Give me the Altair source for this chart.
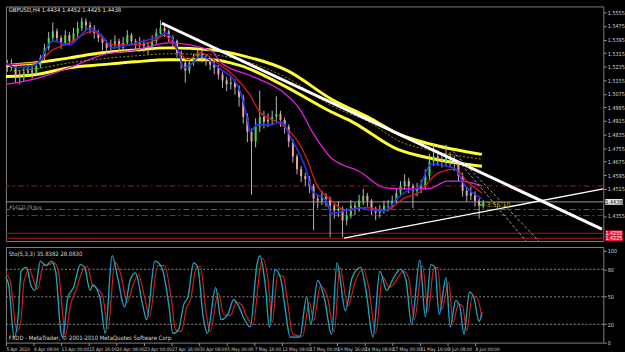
import altair as alt
import pandas as pd

FONT = "Liberation Sans Narrow, DejaVu Sans Condensed, Liberation Sans, sans-serif"

# ---------------- data ----------------
bar_t = list(range(1, 348, 3))  # H4 bar positions (bar index)

opens = [1.5250,1.5229,1.5247,1.5189,1.5171,1.5200,1.5212,1.5200,1.5241,1.5287,
         1.5346,1.5404,1.5444,1.5404,1.5375,1.5421,1.5386,1.5433,1.5462,1.5502,
         1.5479,1.5462,1.5433,1.5404,1.5375,1.5346,1.5363,1.5386,1.5346,1.5375,
         1.5421,1.5386,1.5363,1.5375,1.5357,1.5346,1.5386,1.5433,1.5462,1.5444,
         1.5404,1.5386,1.5317,1.5258,1.5212,1.5258,1.5287,1.5317,1.5287,1.5270,
         1.5247,1.5229,1.5189,1.5154,1.5131,1.5142,1.5113,1.5055,1.4939,1.4852,
         1.4794,1.4881,1.4939,1.4910,1.4921,1.4939,1.4956,1.4921,1.4881,1.4794,
         1.4706,1.4631,1.4590,1.4573,1.4532,1.4457,1.4445,1.4474,1.4457,1.4416,
         1.4387,1.4398,1.4329,1.4358,1.4416,1.4398,1.4445,1.4474,1.4445,1.4398,
         1.4375,1.4387,1.4416,1.4416,1.4445,1.4491,1.4532,1.4561,1.4532,1.4503,
         1.4515,1.4532,1.4590,1.4677,1.4706,1.4689,1.4677,1.4706,1.4689,1.4666,
         1.4590,1.4503,1.4474,1.4491,1.4445,1.4416]
highs = [1.5275,1.5280,1.5255,1.5215,1.5230,1.5245,1.5240,1.5265,1.5305,1.5370,
         1.5440,1.5495,1.5460,1.5420,1.5450,1.5440,1.5465,1.5500,1.5525,1.5520,
         1.5500,1.5480,1.5450,1.5420,1.5390,1.5395,1.5420,1.5400,1.5410,1.5450,
         1.5435,1.5400,1.5410,1.5395,1.5380,1.5420,1.5460,1.5510,1.5490,1.5455,
         1.5420,1.5395,1.5330,1.5270,1.5280,1.5310,1.5340,1.5330,1.5305,1.5290,
         1.5270,1.5245,1.5205,1.5175,1.5175,1.5160,1.5125,1.5070,1.4960,1.4870,
         1.4930,1.5095,1.4975,1.4960,1.4975,1.5060,1.4975,1.4935,1.4895,1.4810,
         1.4720,1.4650,1.4610,1.4590,1.4545,1.4480,1.4505,1.4490,1.4470,1.4430,
         1.4440,1.4410,1.4400,1.4450,1.4435,1.4480,1.4515,1.4490,1.4455,1.4410,
         1.4420,1.4445,1.4450,1.4475,1.4520,1.4560,1.4600,1.4580,1.4545,1.4550,
         1.4570,1.4630,1.4720,1.4780,1.4740,1.4720,1.4775,1.4730,1.4710,1.4680,
         1.4610,1.4530,1.4530,1.4500,1.4460,1.4450]
lows = [1.5205,1.5215,1.5140,1.5130,1.5150,1.5180,1.5165,1.5185,1.5225,1.5270,
        1.5330,1.5385,1.5380,1.5340,1.5360,1.5360,1.5370,1.5410,1.5445,1.5450,
        1.5430,1.5400,1.5380,1.5330,1.5315,1.5320,1.5340,1.5320,1.5330,1.5360,
        1.5360,1.5330,1.5335,1.5320,1.5310,1.5330,1.5370,1.5420,1.5410,1.5380,
        1.5350,1.5290,1.5220,1.5140,1.5195,1.5240,1.5270,1.5260,1.5240,1.5215,
        1.5190,1.5160,1.5110,1.5090,1.5100,1.5070,1.5000,1.4900,1.4790,1.4480,
        1.4760,1.4850,1.4870,1.4880,1.4895,1.4910,1.4880,1.4840,1.4760,1.4670,
        1.4600,1.4555,1.4530,1.4490,1.4270,1.4400,1.4420,1.4410,1.4230,1.4340,
        1.4350,1.4230,1.4300,1.4340,1.4360,1.4380,1.4420,1.4410,1.4360,1.4330,
        1.4345,1.4370,1.4380,1.4400,1.4430,1.4470,1.4510,1.4490,1.4400,1.4470,
        1.4490,1.4510,1.4570,1.4650,1.4650,1.4640,1.4650,1.4640,1.4620,1.4560,
        1.4470,1.4440,1.4450,1.4410,1.4340,1.4400]
closes = [1.5229,1.5247,1.5189,1.5171,1.5200,1.5212,1.5200,1.5241,1.5287,1.5346,
          1.5404,1.5444,1.5404,1.5375,1.5421,1.5386,1.5433,1.5462,1.5502,1.5479,
          1.5462,1.5433,1.5404,1.5375,1.5346,1.5363,1.5386,1.5346,1.5375,1.5421,
          1.5386,1.5363,1.5375,1.5357,1.5346,1.5386,1.5433,1.5462,1.5444,1.5404,
          1.5386,1.5317,1.5258,1.5212,1.5258,1.5287,1.5317,1.5287,1.5270,1.5247,
          1.5229,1.5189,1.5154,1.5131,1.5142,1.5113,1.5055,1.4939,1.4852,1.4794,
          1.4881,1.4939,1.4910,1.4921,1.4939,1.4956,1.4921,1.4881,1.4794,1.4706,
          1.4631,1.4590,1.4573,1.4532,1.4457,1.4445,1.4474,1.4457,1.4416,1.4387,
          1.4398,1.4329,1.4358,1.4416,1.4398,1.4445,1.4474,1.4445,1.4398,1.4375,
          1.4387,1.4416,1.4416,1.4445,1.4491,1.4532,1.4561,1.4532,1.4503,1.4515,
          1.4532,1.4590,1.4677,1.4706,1.4689,1.4677,1.4706,1.4689,1.4666,1.4590,
          1.4503,1.4474,1.4491,1.4445,1.4416,1.4438]

# moving averages / bands (bar index, price)
yu_t = [0,22,46,70,94,118,149,172,204,236,265,284,306,345]
yu_p = [1.5241,1.5258,1.5287,1.5317,1.5334,1.5346,1.5334,1.5299,1.5212,1.5043,1.4927,1.4840,1.4782,1.4718]
yl_t = [0,22,46,70,94,118,149,170,201,236,251,284,308,345]
yl_p = [1.5177,1.5189,1.5229,1.5247,1.5264,1.5276,1.5276,1.5241,1.5125,1.4968,1.4910,1.4747,1.4695,1.4648]
ym_t = [0,22,46,70,94,118,149,172,204,236,265,284,306,345]
ym_p = [1.5209,1.5223,1.5258,1.5282,1.5299,1.5311,1.5305,1.5270,1.5168,1.5005,1.4900,1.4800,1.4745,1.4690]
mg_t = [0,22,46,70,94,118,149,156,177,201,213,222,236,256,275,291,306,320,329,345]
mg_p = [1.5131,1.5165,1.5229,1.5305,1.5334,1.5375,1.5328,1.5258,1.5183,1.5084,
        1.4985,1.4852,1.4695,1.4619,1.4521,1.4515,1.4515,1.4561,1.4561,1.4532]
rd_t = [0,22,34,46,63,77,94,108,115,122,132,141,156,165,177,184,199,208,218,225,
        236,246,261,275,289,299,313,326,334,345]
rd_p = [1.5247,1.5258,1.5334,1.5375,1.5444,1.5363,1.5363,1.5392,1.5421,1.5357,
        1.5276,1.5317,1.5241,1.5183,1.5067,1.4968,1.4898,1.4834,1.4695,1.4544,
        1.4445,1.4387,1.4404,1.4387,1.4462,1.4491,1.4608,1.4631,1.4561,1.4491]
bl_t = [0,8,22,34,46,61,70,77,94,111,115,125,129,134,141,156,165,170,175,177,
        182,192,199,208,218,222,232,236,246,256,265,275,284,291,299,308,325,332,345]
bl_p = [1.5258,1.5229,1.5247,1.5386,1.5363,1.5462,1.5415,1.5346,1.5375,1.5415,
        1.5433,1.5328,1.5229,1.5247,1.5299,1.5218,1.5160,1.5084,1.4927,1.4852,
        1.4892,1.4892,1.4910,1.4794,1.4619,1.4503,1.4445,1.4370,1.4387,1.4404,
        1.4387,1.4387,1.4462,1.4503,1.4521,1.4660,1.4637,1.4544,1.4457]

# drawn objects
trend_t = [113, 432]; trend_p = [1.5491, 1.4277]
support_t = [245, 433]; support_p = [1.4224, 1.4515]
fanA_t = [324, 389]; fanA_p = [1.4736, 1.4184]
fanB_t = [328, 377]; fanB_p = [1.4678, 1.4207]
lvl_dashdot_red = 1.4532
lvl_bid = 1.4438
lvl_green = 1.4393
lvl_brown = 1.4358
lvl_red1 = 1.4253
lvl_red2 = 1.4224

# stochastic
k_t = [0,2,6,9,11,15,18,21,25,29,33,36,40,41,45,49,54,57,61,63,68,72,77,81,86,90,94,99,102,108,
       113,118,121,125,129,132,136,139,143,146,152,156,161,165,169,172,177,182,184,188,
       191,195,199,202,206,213,218,221,226,231,236,240,246,251,257,261,266,271,276,281,
       286,290,294,300,304,308,311,314,319,322,326,329,332,336,339,343,345]
k_v = [71,63,6,31,78,82,63,57,89,84,89,78,10,6,50,60,85,82,57,63,50,10,95,71,39,68,76,42,25,89,
       82,42,10,14,42,50,87,82,28,10,60,25,31,47,39,28,17,85,95,63,
       17,80,71,42,6,6,50,20,68,47,9,87,35,71,82,57,6,78,57,71,
       80,68,20,90,28,85,82,31,71,17,46,39,9,55,50,23,33]
d_t = [0,3,8,11,13,17,20,23,27,31,35,38,42,43,47,51,56,59,63,65,70,74,79,83,88,92,96,101,104,110,
       115,120,123,127,131,134,138,141,145,148,154,158,163,167,171,174,179,184,186,190,
       193,197,201,204,208,215,220,223,228,233,238,242,248,253,259,263,268,273,278,283,
       288,292,296,302,306,310,313,316,321,324,328,331,334,338,341,345]
d_v = [75,68,12,25,66,80,68,58,84,85,87,78,18,8,42,58,80,83,62,60,52,15,88,76,44,62,74,46,28,84,
       84,46,14,12,38,48,82,83,34,12,54,30,30,44,41,30,19,78,92,68,
       22,74,72,46,9,7,44,24,62,50,12,82,40,66,80,60,10,72,60,68,
       78,70,25,84,34,80,82,36,66,22,42,40,13,50,50,28]

y_ticks = [1.5555,1.5475,1.5395,1.5315,1.5235,1.5155,1.5075,1.4995,1.4915,
           1.4835,1.4755,1.4675,1.4595,1.4515,1.4355]
x_tick_pos = list(range(0, 341, 20))
x_labels = ["5 Apr 2010","8 Apr 08:00","13 Apr 00:00","15 Apr 16:00","20 Apr 08:00",
            "23 Apr 00:00","27 Apr 16:00","30 Apr 08:00","5 May 00:00","7 May 16:00",
            "12 May 08:00","17 May 00:00","19 May 16:00","24 May 08:00","27 May 00:00",
            "31 May 16:00","3 Jun 08:00","8 Jun 00:00"]
title_txt = "GBPUSD,H4  1.4434 1.4452 1.4425 1.4438"
sto_txt = "Sto(5,3,3) 35.8382 28.0830"
copy_txt = "FXDD - MetaTrader, \u00a9 2001-2010 MetaQuotes Software Corp."
order_txt = "#1612579 buy"
timer_txt = "<-3:56:10"

# ---------------- chart ----------------
W = 606
MAIN_H = 238
STO_H = 97
xs = alt.Scale(domain=[0, 433], nice=False, zero=False)
ys = alt.Scale(domain=[1.4207, 1.5590], nice=False, zero=False)
ss = alt.Scale(domain=[0, 104.3], nice=False, zero=False)

y_axis = alt.Axis(orient="right", values=y_ticks, format=".4f", labelFontSize=5.5,
                  labelColor="#d8d8d8", tickColor="#909090", tickSize=3, labelPadding=1,
                  domain=False, grid=False, title=None, labelFont=FONT)
X = lambda f="t": alt.X(f + ":Q", scale=xs, axis=None)
Y = lambda f="p": alt.Y(f + ":Q", scale=ys, axis=y_axis)

cdf = pd.DataFrame({"t": bar_t, "o": opens, "h": highs, "l": lows, "c": closes})


def line(ts, ps, color, width, dash=None, interp="monotone"):
    kw = dict(color=color, strokeWidth=width, interpolate=interp, clip=True)
    if dash:
        kw["strokeDash"] = dash
    return alt.Chart(pd.DataFrame({"t": ts, "p": ps})).mark_line(**kw).encode(x=X(), y=Y())


def hline(p, color, width, dash=None):
    kw = dict(color=color, strokeWidth=width)
    if dash:
        kw["strokeDash"] = dash
    return alt.Chart(pd.DataFrame({"p": [p]})).mark_rule(**kw).encode(y=Y())


def label(t, p, s, color, size, align="left"):
    return alt.Chart(pd.DataFrame({"t": [t], "p": [p], "s": [s]})).mark_text(
        align=align, baseline="middle", fontSize=size, color=color, font=FONT
    ).encode(x=X(), y=Y(), text="s:N")


wicks = alt.Chart(cdf).mark_rule(color="#b8b8b8", strokeWidth=1).encode(x=X(), y=Y("l"), y2="h:Q")
bodies = alt.Chart(cdf).mark_rule(strokeWidth=2).encode(
    x=X(), y=Y("o"), y2="c:Q",
    color=alt.condition("datum.c >= datum.o", alt.value("#44dd44"), alt.value("#f0a0a0")),
)

boxes_df = pd.DataFrame({
    "t1": [434.5, 434.5, 434.5], "t2": [447, 447, 447],
    "p1": [lvl_bid - 0.0017, lvl_red1 - 0.0017, lvl_red2 - 0.0017],
    "p2": [lvl_bid + 0.0017, lvl_red1 + 0.0017, lvl_red2 + 0.0017],
    "fill": ["#e8e8e8", "#ee1133", "#ee1133"],
    "tc": ["#000000", "#ffffff", "#ffffff"],
    "s": ["1.4438", "1.4255", "1.4225"],
    "pm": [lvl_bid, lvl_red1, lvl_red2],
})
boxes = alt.Chart(boxes_df).mark_rect().encode(
    x=alt.X("t1:Q", scale=xs, axis=None), x2="t2:Q",
    y=Y("p1"), y2="p2:Q", fill=alt.Fill("fill:N", scale=None))
box_txt = alt.Chart(boxes_df).mark_text(align="left", baseline="middle", fontSize=5.5, font=FONT).encode(
    x=alt.X("t1:Q", scale=xs, axis=None), y=Y("pm"), text="s:N", color=alt.Color("tc:N", scale=None))

main = alt.layer(
    hline(lvl_dashdot_red, "#9a2020", 1, [6, 3, 2, 3]),
    hline(lvl_bid, "#9a9a9a", 1),
    hline(lvl_green, "#2a8a2a", 1, [6, 3, 2, 3]),
    hline(lvl_brown, "#7a3a18", 1, [6, 3, 2, 3]),
    hline(lvl_red1, "#b01818", 1),
    hline(lvl_red2, "#b01818", 1),
    line(ym_t, ym_p, "#9a9a00", 1, [2, 2]),
    line(yu_t, yu_p, "#ffff33", 3),
    line(yl_t, yl_p, "#ffff33", 3),
    wicks,
    bodies,
    line(mg_t, mg_p, "#e020e0", 1.3),
    line(rd_t, rd_p, "#e01818", 1.3),
    line(bl_t, bl_p, "#2233ee", 1.6),
    line(trend_t, trend_p, "#ffffff", 3, interp="linear"),
    line(support_t, support_p, "#ffffff", 1.3, interp="linear"),
    line(fanA_t, fanA_p, "#a0a0a0", 1, [3, 2], interp="linear"),
    line(fanB_t, fanB_p, "#a0a0a0", 1, [3, 2], interp="linear"),
    label(2, 1.5568, title_txt, "#e0e0e0", 6),
    label(2, 1.4410, order_txt, "#a8a8a8", 5),
    label(343, 1.4418, timer_txt, "#b8b800", 7),
    boxes,
    box_txt,
).properties(width=W, height=MAIN_H)

x_axis = alt.Axis(values=x_tick_pos, labelExpr="%s[round(datum.value/20)]" % str(x_labels),
                  labelAlign="left", labelFontSize=4.8, labelColor="#d0d0d0", tickColor="#909090",
                  tickSize=3, labelPadding=1, domain=False, grid=False, labelOverlap=False,
                  labelFlush=False, labelBound=False, title=None, labelFont=FONT)
s_axis = alt.Axis(orient="right", values=[0, 20, 50, 80, 100], labelFontSize=5.5, labelColor="#d8d8d8",
                  tickColor="#909090", tickSize=3, labelPadding=1, domain=False, grid=False,
                  title=None, labelFont=FONT)
SX = alt.X("t:Q", scale=xs, axis=x_axis)
SY = lambda f="v": alt.Y(f + ":Q", scale=ss, axis=s_axis)

kdf = pd.DataFrame({"t": k_t, "v": k_v})
ddf = pd.DataFrame({"t": d_t, "v": d_v})
levels = alt.Chart(pd.DataFrame({"v": [20, 50, 80]})).mark_rule(
    color="#8a8a8a", strokeDash=[2, 2], strokeWidth=1).encode(y=SY())
d_line = alt.Chart(ddf).mark_line(color="#cc2020", strokeWidth=1.2, interpolate="monotone").encode(x=SX, y=SY())
k_line = alt.Chart(kdf).mark_line(color="#20b2aa", strokeWidth=1.3, interpolate="monotone").encode(x=SX, y=SY())
k_dots = alt.Chart(kdf).mark_line(color="#3060ff", strokeWidth=1, strokeDash=[1, 3],
                                  interpolate="monotone").encode(x=SX, y=SY())
sto_lbl = alt.Chart(pd.DataFrame({"t": [2, 2], "v": [97, 5.5], "s": [sto_txt, copy_txt]})).mark_text(
    align="left", baseline="middle", fontSize=6, color="#d8d8d8", font=FONT).encode(x=SX, y=SY(), text="s:N")

sto = alt.layer(levels, d_line, k_line, k_dots, sto_lbl).properties(width=W, height=STO_H)

chart = alt.vconcat(main, sto, spacing=3).properties(
    background="#000000",
    padding={"left": 2, "top": 3, "right": 0, "bottom": 0},
).configure_view(stroke="#808080", strokeWidth=1)

chart.save("out.html", embed_options={"renderer": "svg", "actions": False})
